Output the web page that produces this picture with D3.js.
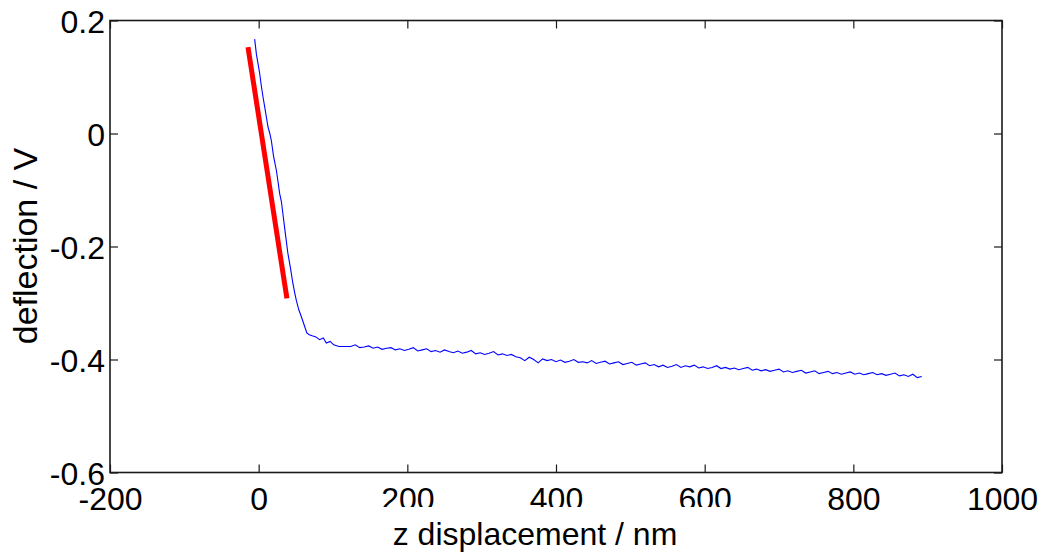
<!DOCTYPE html>
<html>
<head>
<meta charset="utf-8">
<script src="https://cdn.jsdelivr.net/npm/d3@7"></script>
<style>
  html, body { margin: 0; padding: 0; background: #fff; }
  svg { display: block; font-family: "Liberation Sans", Arial, sans-serif; }
</style>
</head>
<body>
<svg id="chart" width="1041" height="556"></svg>
<script>
// ---- data ----
const xTicks = [-200, 0, 200, 400, 600, 800, 1000];
const xTickLabels = ["-200", "0", "200", "400", "600", "800", "1000"];
const yTicks = [-0.6, -0.4, -0.2, 0, 0.2];
const yTickLabels = ["-0.6", "-0.4", "-0.2", "0", "0.2"];
const xLabel = "z displacement / nm";
const yLabel = "deflection / V";

// measured deflection curve (blue)
const curveX = [-5.4, -3, 1.3, 3.5, 5.8, 9, 12.5, 15, 17, 20, 23.8, 26, 28.2, 30.5, 32.6, 36, 39.3, 43, 46, 48.5, 50.6, 54, 57.3, 61, 64.8, 68, 72, 77, 82, 87, 91, 96, 101, 108,
  124, 130, 136, 142, 148, 154, 160, 166, 172, 178, 184, 190, 196, 202, 208, 214, 220, 226, 232, 238, 244, 250, 256, 262, 268, 274, 280, 286, 292, 298,
  304, 310, 316, 322, 328, 334, 340, 346, 352, 358, 364, 370, 376, 382, 388, 394, 400, 406, 412, 418, 424, 430, 436, 442, 448, 454, 460, 466, 472, 478,
  484, 490, 496, 502, 508, 514, 520, 526, 532, 538, 544, 550, 556, 562, 568, 574, 580, 586, 592, 598, 604, 610, 616, 622, 628, 634, 640, 646, 652, 658,
  664, 670, 676, 682, 688, 694, 700, 706, 712, 718, 724, 730, 736, 742, 748, 754, 760, 766, 772, 778, 784, 790, 796, 802, 808, 814, 820, 826, 832, 838,
  844, 850, 856, 862, 868, 874, 880, 886, 892];
const curveY = [0.167, 0.140, 0.107, 0.085, 0.065, 0.040, 0.012, 0.000, -0.012, -0.040, -0.065, -0.085, -0.106, -0.120, -0.142, -0.178, -0.212, -0.240, -0.265, -0.282, -0.295, -0.312, -0.324, -0.338, -0.353, -0.356, -0.358, -0.360, -0.365, -0.362, -0.371, -0.368, -0.374, -0.377,
  -0.377, -0.374, -0.379, -0.378, -0.376, -0.380, -0.378, -0.382, -0.380, -0.379, -0.383, -0.381, -0.384, -0.382, -0.379, -0.385, -0.383, -0.381, -0.386, -0.384, -0.387, -0.383, -0.386, -0.388, -0.385, -0.389, -0.387, -0.384, -0.390, -0.388,
  -0.391, -0.389, -0.386, -0.392, -0.390, -0.393, -0.391, -0.395, -0.397, -0.402, -0.396, -0.400, -0.406, -0.399, -0.402, -0.400, -0.404, -0.401, -0.405, -0.403, -0.400, -0.405, -0.404, -0.406, -0.402, -0.407, -0.405, -0.403, -0.408, -0.406,
  -0.404, -0.409, -0.407, -0.405, -0.410, -0.408, -0.406, -0.411, -0.409, -0.413, -0.410, -0.414, -0.412, -0.409, -0.414, -0.411, -0.413, -0.410, -0.415, -0.413, -0.416, -0.414, -0.411, -0.416, -0.414, -0.417, -0.415, -0.418, -0.416, -0.414,
  -0.419, -0.417, -0.420, -0.418, -0.421, -0.419, -0.417, -0.422, -0.420, -0.423, -0.421, -0.419, -0.424, -0.422, -0.420, -0.425, -0.423, -0.421, -0.425, -0.423, -0.426, -0.424, -0.422, -0.426, -0.424, -0.427, -0.425, -0.423, -0.427, -0.425,
  -0.428, -0.426, -0.424, -0.429, -0.427, -0.430, -0.426, -0.432, -0.430];

// linear fit (red)
const fitX = [-14.4, 38];
const fitY = [0.153, -0.292];

// ---- drawing ----
const svg = d3.select("#chart");
const L = 110, R = 1002, T = 20.5, B = 472.5;
const x = d3.scaleLinear().domain([-200, 1000]).range([L, R]);
const y = d3.scaleLinear().domain([-0.6, 0.2]).range([B, T]);

const tick = 8;
const fontTick = "32px";

// bottom axis
const gB = svg.append("g").attr("transform", `translate(0,${B})`)
  .call(d3.axisBottom(x).tickValues(xTicks).tickSizeInner(-tick).tickSizeOuter(0).tickPadding(15)
    .tickFormat((d, i) => xTickLabels[i]));
// top axis (ticks only)
const gT = svg.append("g").attr("transform", `translate(0,${T})`)
  .call(d3.axisTop(x).tickValues(xTicks).tickSizeInner(-tick).tickSizeOuter(0).tickFormat(""));
// left axis
const gL = svg.append("g").attr("transform", `translate(${L},0)`)
  .call(d3.axisLeft(y).tickValues(yTicks).tickSizeInner(-tick).tickSizeOuter(0).tickPadding(5)
    .tickFormat((d, i) => yTickLabels[i]));
// right axis (ticks only)
const gR = svg.append("g").attr("transform", `translate(${R},0)`)
  .call(d3.axisRight(y).tickValues(yTicks).tickSizeInner(-tick).tickSizeOuter(0).tickFormat(""));

[gB, gT, gL, gR].forEach(g => {
  g.select(".domain").remove();
  g.selectAll(".tick line").attr("stroke", "#1a1a1a").attr("stroke-width", 1.2);
  g.selectAll(".tick text").attr("fill", "#000").style("font-size", fontTick)
    .style("font-family", '"Liberation Sans", Arial, sans-serif');
});
gL.selectAll(".tick text").attr("dy", "0.36em");

// frame
svg.append("rect").attr("x", L).attr("y", T).attr("width", R - L).attr("height", B - T)
  .attr("fill", "none").attr("stroke", "#1a1a1a").attr("stroke-width", 1.6);

// data lines
const line = d3.line().x(d => x(d[0])).y(d => y(d[1]));
const curve = curveX.map((v, i) => [v, curveY[i]]);
svg.append("path").datum(curve).attr("d", line)
  .attr("fill", "none").attr("stroke", "#0000ff").attr("stroke-width", 1.1);
const fit = fitX.map((v, i) => [v, fitY[i]]);
svg.append("path").datum(fit).attr("d", line)
  .attr("fill", "none").attr("stroke", "#ff0000").attr("stroke-width", 5);

// x-label background box (clips the tick labels beneath, as in the original)
svg.append("rect").attr("x", 375).attr("y", 507).attr("width", 365).attr("height", 49).attr("fill", "#fff");

svg.append("text").attr("x", 535).attr("y", 545).attr("text-anchor", "middle")
  .style("font-size", "32px").attr("fill", "#000").text(xLabel);

svg.append("text").attr("transform", "translate(37,246) rotate(-90)").attr("text-anchor", "middle")
  .style("font-size", "34px").attr("fill", "#000").text(yLabel);
</script>
</body>
</html>
